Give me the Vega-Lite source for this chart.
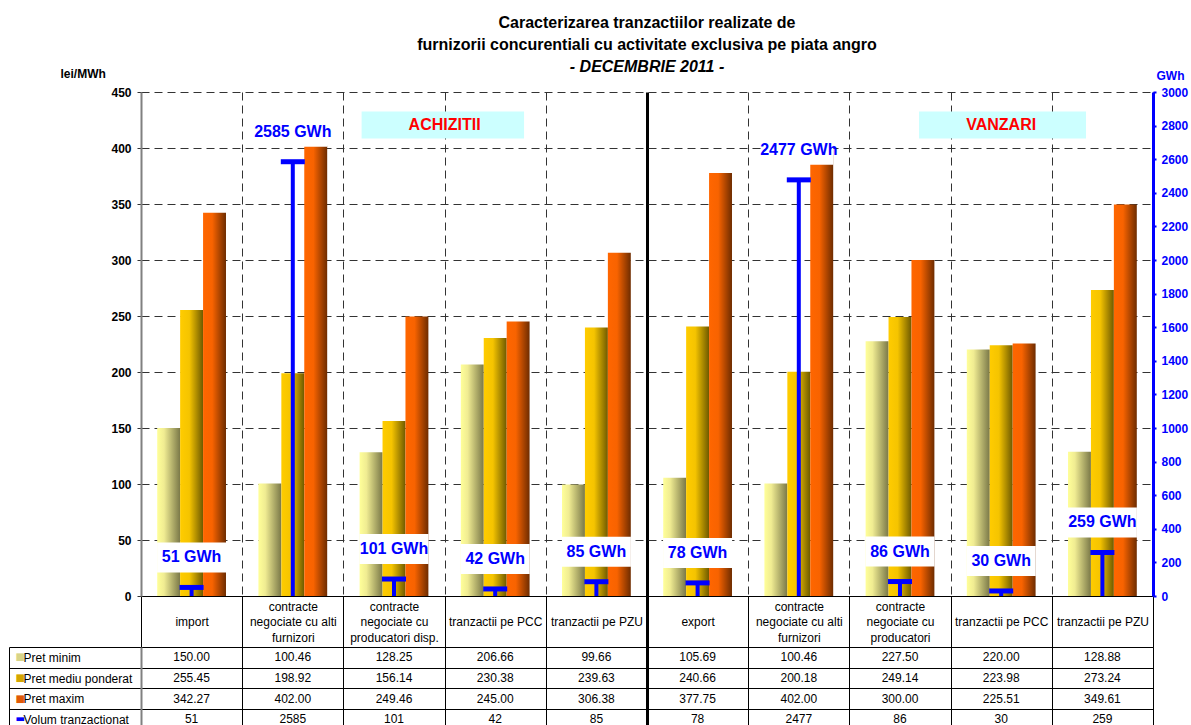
{
  "$schema": "https://vega.github.io/schema/vega-lite/v6.json",
  "padding": {"left": 8, "top": 15, "right": 4, "bottom": 0},
  "background": "white",
  "config": {
    "font": "Liberation Sans",
    "view": {"stroke": null},
    "axis": {"labelFont": "Liberation Sans", "titleFont": "Liberation Sans"},
    "text": {"font": "Liberation Sans"}
  },
  "data": {
    "values": [
      {"cat": "01|import", "min": 150.00, "med": 255.45, "max": 342.27, "vol": 51},
      {"cat": "02|contracte|negociate cu alti|furnizori", "min": 100.46, "med": 198.92, "max": 402.00, "vol": 2585},
      {"cat": "03|contracte|negociate cu|producatori disp.", "min": 128.25, "med": 156.14, "max": 249.46, "vol": 101},
      {"cat": "04|tranzactii pe PCC", "min": 206.66, "med": 230.38, "max": 245.00, "vol": 42},
      {"cat": "05|tranzactii pe PZU", "min": 99.66, "med": 239.63, "max": 306.38, "vol": 85},
      {"cat": "06|export", "min": 105.69, "med": 240.66, "max": 377.75, "vol": 78},
      {"cat": "07|contracte|negociate cu alti|furnizori", "min": 100.46, "med": 200.18, "max": 402.00, "vol": 2477},
      {"cat": "08|contracte|negociate cu|producatori", "min": 227.50, "med": 249.14, "max": 300.00, "vol": 86},
      {"cat": "09|tranzactii pe PCC", "min": 220.00, "med": 223.98, "max": 225.51, "vol": 30},
      {"cat": "10|tranzactii pe PZU", "min": 128.88, "med": 273.24, "max": 349.61, "vol": 259}
    ]
  },
  "bounds": "flush",
  "spacing": 51,
  "vconcat": [
    {
      "width": 1012,
      "height": 504,
      "title": {
        "text": ["Caracterizarea tranzactiilor realizate de", "furnizorii concurentiali cu activitate exclusiva pe piata angro"],
        "subtitle": "- DECEMBRIE 2011 -",
        "frame": "group",
        "anchor": "middle",
        "font": "Liberation Sans",
        "fontSize": 16,
        "fontWeight": "bold",
        "color": "black",
        "lineHeight": 22,
        "subtitleFont": "Liberation Sans",
        "subtitleFontSize": 16,
        "subtitleFontWeight": "bold",
        "subtitleFontStyle": "italic",
        "subtitleColor": "black",
        "subtitlePadding": 6,
        "offset": -8
      },
      "encoding": {
        "x": {
          "field": "cat",
          "type": "nominal",
          "scale": {"type": "band", "paddingInner": 0, "paddingOuter": 0},
          "axis": {
            "orient": "bottom",
            "title": null,
            "domain": true,
            "domainColor": "black",
            "domainWidth": 1,
            "tickBand": "extent",
            "ticks": true,
            "tickSize": 51,
            "tickColor": "black",
            "tickWidth": {"condition": {"test": "datum.value === '05|tranzactii pe PZU'", "value": 3}, "value": 1},
            "grid": true,
            "gridColor": {"condition": {"test": "datum.value === '05|tranzactii pe PZU'", "value": "black"}, "value": "#333333"},
            "gridDash": {"condition": {"test": "datum.value === '05|tranzactii pe PZU'", "value": []}, "value": [8, 5]},
            "gridWidth": {"condition": {"test": "datum.value === '05|tranzactii pe PZU'", "value": 3}, "value": 1},
            "labelExpr": "slice(split(datum.value, '|'), 1)",
            "labelFontSize": 12,
            "labelColor": "black",
            "labelAngle": 0,
            "labelBaseline": "middle",
            "labelPadding": {"condition": {"test": "length(split(datum.value, '|')) > 2", "value": -41}, "value": -25.5},
            "labelLineHeight": 15.5,
            "labelOverlap": false,
            "labelLimit": 0,
            "labelBound": false,
            "labelFlush": false
          }
        }
      },
      "layer": [
        {
          "layer": [
            {
              "mark": {"type": "bar", "color": {"gradient": "linear", "x1": 0, "y1": 0, "x2": 1, "y2": 0, "stops": [{"offset": 0, "color": "#FFFF99"}, {"offset": 0.3, "color": "#F0EC92"}, {"offset": 1, "color": "#7A7848"}]}},
              "encoding": {
                "xOffset": {"datum": "min", "scale": {"type": "band", "domain": ["min", "med", "max"], "paddingInner": 0, "paddingOuter": 0.707}},
                "y": {
                  "field": "min", "type": "quantitative", "title": "lei/MWh",
                  "scale": {"domain": [0, 450], "nice": false, "zero": true},
                  "axis": {
                    "orient": "left",
                    "values": [0, 50, 100, 150, 200, 250, 300, 350, 400, 450],
                    "tickCount": 10,
                    "domain": true, "domainColor": "#808080", "domainWidth": 2,
                    "ticks": true, "tickSize": 4, "tickColor": "#333333",
                    "grid": true, "gridColor": "#333333", "gridDash": [8, 5], "gridWidth": 1,
                    "labelFontSize": 12, "labelFontWeight": "bold", "labelColor": "black", "labelPadding": 6,
                    "title": "lei/MWh", "titleFontSize": 12, "titleFontWeight": "bold", "titleColor": "black",
                    "titleAngle": 0, "titleAlign": "left", "titleBaseline": "middle", "titleX": -81, "titleY": -19
                  }
                }
              }
            },
            {
              "mark": {"type": "bar", "color": {"gradient": "linear", "x1": 0, "y1": 0, "x2": 1, "y2": 0, "stops": [{"offset": 0, "color": "#FFCC00"}, {"offset": 0.4, "color": "#F5C400"}, {"offset": 1, "color": "#6E5A00"}]}},
              "encoding": {
                "xOffset": {"datum": "med", "scale": {"type": "band", "domain": ["min", "med", "max"], "paddingInner": 0, "paddingOuter": 0.707}},
                "y": {"field": "med", "type": "quantitative", "title": "lei/MWh", "scale": {"domain": [0, 450], "nice": false, "zero": true}}
              }
            },
            {
              "mark": {"type": "bar", "color": {"gradient": "linear", "x1": 0, "y1": 0, "x2": 1, "y2": 0, "stops": [{"offset": 0, "color": "#FF6600"}, {"offset": 0.4, "color": "#F86300"}, {"offset": 1, "color": "#6E2C00"}]}},
              "encoding": {
                "xOffset": {"datum": "max", "scale": {"type": "band", "domain": ["min", "med", "max"], "paddingInner": 0, "paddingOuter": 0.707}},
                "y": {"field": "max", "type": "quantitative", "title": "lei/MWh", "scale": {"domain": [0, 450], "nice": false, "zero": true}}
              }
            },
            {
              "data": {"values": [{"section": "ACHIZITII"}]},
              "mark": {"type": "rect", "color": "#CCFFFF"},
              "encoding": {
                "x": {"datum": "03|contracte|negociate cu|producatori disp.", "bandPosition": 0.18},
                "x2": {"datum": "04|tranzactii pe PCC", "bandPosition": 0.785},
                "y": {"datum": 432.5, "type": "quantitative", "title": "lei/MWh", "scale": {"domain": [0, 450], "nice": false, "zero": true}},
                "y2": {"datum": 408.4}
              }
            },
            {
              "data": {"values": [{"section": "ACHIZITII"}]},
              "mark": {"type": "text", "color": "#FF0000", "fontSize": 16, "fontWeight": "bold", "baseline": "middle", "align": "center"},
              "encoding": {
                "x": {"datum": "04|tranzactii pe PCC", "bandPosition": 0},
                "y": {"datum": 420.5, "type": "quantitative", "title": "lei/MWh", "scale": {"domain": [0, 450], "nice": false, "zero": true}},
                "text": {"field": "section"}
              }
            },
            {
              "data": {"values": [{"section": "VANZARI"}]},
              "mark": {"type": "rect", "color": "#CCFFFF"},
              "encoding": {
                "x": {"datum": "08|contracte|negociate cu|producatori", "bandPosition": 0.688},
                "x2": {"datum": "10|tranzactii pe PZU", "bandPosition": 0.338},
                "y": {"datum": 432.5, "type": "quantitative", "title": "lei/MWh", "scale": {"domain": [0, 450], "nice": false, "zero": true}},
                "y2": {"datum": 408.4}
              }
            },
            {
              "data": {"values": [{"section": "VANZARI"}]},
              "mark": {"type": "text", "color": "#FF0000", "fontSize": 16, "fontWeight": "bold", "baseline": "middle", "align": "center"},
              "encoding": {
                "x": {"datum": "09|tranzactii pe PCC", "bandPosition": 0.5},
                "y": {"datum": 420.5, "type": "quantitative", "title": "lei/MWh", "scale": {"domain": [0, 450], "nice": false, "zero": true}},
                "text": {"field": "section"}
              }
            }
          ]
        },
        {
          "layer": [
            {
              "mark": {"type": "tick", "color": "white", "opacity": 1, "thickness": 30, "size": 69, "yOffset": -30},
              "encoding": {
                "y": {
                  "field": "vol", "type": "quantitative", "title": "GWh",
                  "scale": {"domain": [0, 3000], "nice": false, "zero": true},
                  "axis": {
                    "orient": "right",
                    "values": [0, 200, 400, 600, 800, 1000, 1200, 1400, 1600, 1800, 2000, 2200, 2400, 2600, 2800, 3000],
                    "tickCount": 16,
                    "format": "d",
                    "labelOverlap": false,
                    "domain": true, "domainColor": "#0000FF", "domainWidth": 3,
                    "ticks": true, "tickSize": 3, "tickColor": "#0000FF", "tickWidth": 2,
                    "grid": false,
                    "labelFontSize": 12, "labelFontWeight": "bold", "labelColor": "#0000FF", "labelPadding": 5,
                    "title": "GWh", "titleFontSize": 12, "titleFontWeight": "bold", "titleColor": "#0000FF",
                    "titleAngle": 0, "titleAlign": "left", "titleBaseline": "middle", "titleX": 3, "titleY": -17
                  }
                }
              }
            },
            {
              "mark": {"type": "rule", "color": "#0000FF", "strokeWidth": 4},
              "encoding": {
                "y": {"field": "vol", "type": "quantitative", "title": "GWh", "scale": {"domain": [0, 3000], "nice": false, "zero": true}},
                "y2": {"datum": 0}
              }
            },
            {
              "mark": {"type": "tick", "color": "#0000FF", "opacity": 1, "thickness": 5, "size": 24},
              "encoding": {
                "y": {"field": "vol", "type": "quantitative", "title": "GWh", "scale": {"domain": [0, 3000], "nice": false, "zero": true}}
              }
            },
            {
              "mark": {"type": "text", "color": "#0000FF", "fontSize": 16, "fontWeight": "bold", "baseline": "middle", "align": "center", "dy": -30, "text": {"expr": "datum.vol + ' GWh'"}},
              "encoding": {
                "y": {"field": "vol", "type": "quantitative", "title": "GWh", "scale": {"domain": [0, 3000], "nice": false, "zero": true}}
              }
            }
          ]
        }
      ],
      "resolve": {"scale": {"y": "independent"}}
    },
    {
      "width": 1012,
      "height": 82.8,
      "encoding": {
        "x": {
          "field": "cat",
          "type": "nominal",
          "scale": {"type": "band", "paddingInner": 0, "paddingOuter": 0},
          "axis": {
            "orient": "top",
            "title": null,
            "labels": false,
            "ticks": false,
            "domain": true,
            "domainColor": "black",
            "domainWidth": 1,
            "tickBand": "extent",
            "grid": true,
            "gridColor": "black",
            "gridWidth": {"condition": {"test": "datum.value === '05|tranzactii pe PZU'", "value": 3}, "value": 1}
          }
        }
      },
      "layer": [
        {
          "layer": [
            {
              "mark": {"type": "text", "fontSize": 12, "color": "black", "baseline": "middle"},
              "encoding": {
                "y": {
                  "datum": "Pret minim", "type": "nominal",
                  "scale": {"type": "band", "domain": ["Pret minim", "Pret mediu ponderat", "Pret maxim", "Volum tranzactionat"], "paddingInner": 0, "paddingOuter": 0},
                  "axis": {
                    "orient": "left", "title": null,
                    "domain": true, "domainColor": "#808080", "domainWidth": 2,
                    "ticks": true, "tickSize": 132, "tickColor": "black", "tickWidth": 1, "tickBand": "extent",
                    "grid": true, "gridColor": "black", "gridWidth": 1,
                    "labels": true, "labelAlign": "left", "labelBaseline": "middle", "labelPadding": -14,
                    "labelFontSize": 12, "labelColor": "black", "labelLimit": 0, "labelBound": false
                  }
                },
                "text": {"field": "min", "type": "quantitative", "format": ".2f"}
              }
            },
            {
              "mark": {"type": "text", "fontSize": 12, "color": "black", "baseline": "middle"},
              "encoding": {
                "y": {"datum": "Pret mediu ponderat", "type": "nominal", "scale": {"type": "band", "domain": ["Pret minim", "Pret mediu ponderat", "Pret maxim", "Volum tranzactionat"], "paddingInner": 0, "paddingOuter": 0}},
                "text": {"field": "med", "type": "quantitative", "format": ".2f"}
              }
            },
            {
              "mark": {"type": "text", "fontSize": 12, "color": "black", "baseline": "middle"},
              "encoding": {
                "y": {"datum": "Pret maxim", "type": "nominal", "scale": {"type": "band", "domain": ["Pret minim", "Pret mediu ponderat", "Pret maxim", "Volum tranzactionat"], "paddingInner": 0, "paddingOuter": 0}},
                "text": {"field": "max", "type": "quantitative", "format": ".2f"}
              }
            },
            {
              "mark": {"type": "text", "fontSize": 12, "color": "black", "baseline": "middle"},
              "encoding": {
                "y": {"datum": "Volum tranzactionat", "type": "nominal", "scale": {"type": "band", "domain": ["Pret minim", "Pret mediu ponderat", "Pret maxim", "Volum tranzactionat"], "paddingInner": 0, "paddingOuter": 0}},
                "text": {"field": "vol", "type": "quantitative", "format": "d"}
              }
            }
          ]
        },
        {
          "mark": {"type": "point", "opacity": 0},
          "encoding": {
            "y": {
              "datum": "Pret minim", "type": "nominal",
              "scale": {"type": "band", "domain": ["Pret minim", "Pret mediu ponderat", "Pret maxim", "Volum tranzactionat"], "paddingInner": 0, "paddingOuter": 0},
              "axis": {
                "orient": "left", "title": null, "offset": 132,
                "domain": true, "domainColor": "black", "domainWidth": 1,
                "ticks": false, "grid": false,
                "labels": true, "labelAlign": "left", "labelBaseline": "middle", "labelPadding": -6,
                "labelFont": "DejaVu Sans", "labelFontSize": 10,
                "labelExpr": "datum.value === 'Volum tranzactionat' ? '\u25ac' : '\u25a0'",
                "labelColor": {"condition": [
                  {"test": "datum.value === 'Pret minim'", "value": "#D8D488"},
                  {"test": "datum.value === 'Pret mediu ponderat'", "value": "#D4A600"},
                  {"test": "datum.value === 'Pret maxim'", "value": "#E05A08"}
                ], "value": "#0000FF"},
                "labelLimit": 0, "labelBound": false
              }
            }
          }
        }
      ],
      "resolve": {"scale": {"y": "independent"}, "axis": {"y": "independent"}}
    }
  ]
}
